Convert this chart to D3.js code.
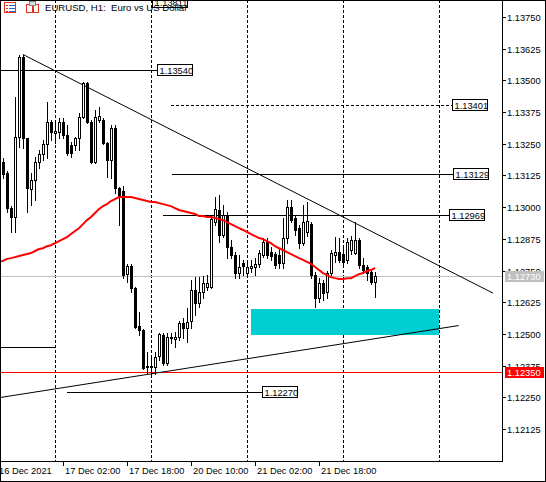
<!DOCTYPE html>
<html><head><meta charset="utf-8">
<script src="https://cdn.jsdelivr.net/npm/d3@7/dist/d3.min.js"></script>
<style>
body{margin:0;background:#fff}
svg{display:block}
text{font-family:"Liberation Sans",Arial,sans-serif;font-size:9.3px;fill:#000}
</style>
</head><body>
<svg id="c" width="546" height="482"></svg>
<script>
// ---- data (EURUSD H1, bars from 16 Dec 2021 11:00) ----
const openP = [1.13178,1.13135,1.12996,1.12961,1.13276,1.13592,1.13272,1.13071,1.13107,1.13178,
1.13209,1.13249,1.13336,1.13292,1.13296,1.13336,1.13284,1.13245,1.13245,1.13272,
1.13355,1.13490,1.13336,1.13178,1.13344,1.13344,1.13253,1.13186,1.13312,1.13075,
1.13064,1.12736,1.12768,1.12681,1.12531,1.12516,1.12369,1.12373,1.12369,1.12413,
1.12496,1.12385,1.12484,1.12480,1.12488,1.12543,1.12523,1.12551,1.12673,1.12622,
1.12665,1.12685,1.12685,1.12941,1.12989,1.12890,1.12969,1.12842,1.12811,1.12740,
1.12780,1.12740,1.12760,1.12764,1.12776,1.12811,1.12862,1.12823,1.12815,1.12811,
1.12780,1.12878,1.13000,1.12957,1.12917,1.12858,1.12902,1.12933,1.12732,1.12641,
1.12701,1.12665,1.12740,1.12811,1.12823,1.12815,1.12792,1.12831,1.12819,1.12870,
1.12772,1.12764,1.12744,1.12705];
const highP = [1.13193,1.13143,1.13004,1.13434,1.13600,1.13600,1.13272,1.13135,1.13197,1.13225,
1.13265,1.13415,1.13344,1.13344,1.13351,1.13351,1.13324,1.13257,1.13276,1.13371,
1.13494,1.13494,1.13344,1.13383,1.13395,1.13351,1.13257,1.13324,1.13324,1.13079,
1.13083,1.12776,1.12776,1.12685,1.12586,1.12520,1.12429,1.12409,1.12429,1.12504,
1.12504,1.12504,1.12504,1.12508,1.12551,1.12562,1.12602,1.12713,1.12724,1.12724,
1.12728,1.12732,1.12965,1.13040,1.13048,1.13008,1.12981,1.12870,1.12823,1.12811,
1.12792,1.12784,1.12792,1.12799,1.12831,1.12878,1.12878,1.12842,1.12823,1.12838,
1.12957,1.13028,1.13028,1.12969,1.12929,1.13008,1.13020,1.12941,1.12744,1.12720,
1.12713,1.12748,1.12831,1.12882,1.12878,1.12838,1.12878,1.12886,1.12941,1.12878,
1.12799,1.12772,1.12752,1.12744];
const lowP = [1.13115,1.12981,1.12902,1.12902,1.13237,1.13233,1.12981,1.13008,1.13028,1.13154,
1.13186,1.13193,1.13265,1.13253,1.13272,1.13272,1.13205,1.13197,1.13225,1.13225,
1.13351,1.13332,1.13174,1.13174,1.13336,1.13249,1.13119,1.13115,1.13056,1.12929,
1.12720,1.12705,1.12665,1.12523,1.12496,1.12362,1.12346,1.12342,1.12342,1.12397,
1.12377,1.12377,1.12464,1.12448,1.12476,1.12484,1.12468,1.12523,1.12574,1.12606,
1.12641,1.12673,1.12681,1.12929,1.12862,1.12882,1.12799,1.12799,1.12720,1.12720,
1.12732,1.12728,1.12744,1.12732,1.12764,1.12803,1.12799,1.12792,1.12760,1.12760,
1.12760,1.12858,1.12941,1.12890,1.12838,1.12850,1.12886,1.12720,1.12606,1.12626,
1.12634,1.12641,1.12732,1.12784,1.12784,1.12772,1.12780,1.12815,1.12815,1.12760,
1.12740,1.12713,1.12697,1.12645];
const closeP = [1.13131,1.12996,1.12961,1.13276,1.13592,1.13272,1.13075,1.13107,1.13178,1.13209,
1.13249,1.13336,1.13296,1.13300,1.13336,1.13284,1.13213,1.13213,1.13272,1.13355,
1.13490,1.13336,1.13178,1.13355,1.13359,1.13253,1.13186,1.13312,1.13075,1.13044,
1.12732,1.12768,1.12681,1.12527,1.12516,1.12365,1.12373,1.12369,1.12409,1.12500,
1.12385,1.12488,1.12488,1.12488,1.12543,1.12523,1.12547,1.12673,1.12622,1.12665,
1.12701,1.12701,1.12953,1.12993,1.12890,1.12969,1.12842,1.12811,1.12740,1.12764,
1.12768,1.12764,1.12768,1.12776,1.12819,1.12862,1.12811,1.12807,1.12772,1.12780,
1.12878,1.13000,1.12949,1.12910,1.12858,1.12941,1.12945,1.12732,1.12641,1.12701,
1.12661,1.12740,1.12819,1.12823,1.12792,1.12784,1.12862,1.12870,1.12870,1.12772,
1.12752,1.12740,1.12705,1.12730];
// moving average, first value belongs to the bar before the first visible bar
const maP = [1.12784,1.12788,1.12796,1.12799,1.12803,1.12807,1.12811,1.12815,1.12819,1.12827,
1.12835,1.12838,1.12846,1.12850,1.12858,1.12866,1.12874,1.12882,1.12894,1.12906,
1.12917,1.12933,1.12949,1.12961,1.12977,1.12993,1.13004,1.13012,1.13024,1.13032,
1.13040,1.13040,1.13040,1.13040,1.13036,1.13032,1.13028,1.13024,1.13020,1.13020,
1.13016,1.13012,1.13008,1.13004,1.12996,1.12989,1.12985,1.12981,1.12977,1.12973,
1.12965,1.12965,1.12961,1.12961,1.12957,1.12953,1.12949,1.12941,1.12933,1.12925,
1.12917,1.12910,1.12902,1.12894,1.12886,1.12878,1.12874,1.12866,1.12858,1.12846,
1.12838,1.12831,1.12823,1.12815,1.12807,1.12799,1.12792,1.12784,1.12776,1.12764,
1.12752,1.12740,1.12732,1.12724,1.12720,1.12717,1.12717,1.12720,1.12720,1.12728,
1.12736,1.12740,1.12748,1.12752,1.12760];
const yTickValues = [1.13750,1.13625,1.13500,1.13375,1.13250,1.13125,1.13000,1.12875,1.12750,1.12625,1.12500,1.12375,1.12250,1.12125];
const xLabelText = ["16 Dec 2021","17 Dec 02:00","17 Dec 18:00","20 Dec 10:00","21 Dec 02:00","21 Dec 18:00"];
const xLabelBar = [0,15,31,47,63,79];
const daySeparatorBar = [13,37,61,85,109];
const levelPrice   = [1.13540,1.13401,1.13129,1.12969,1.12270,1.12448,1.13811];
const levelFromBar = [-1,42,42.25,40,16,-1,37.25];
const levelToBar   = [38.5,112.25,112.5,111.5,64.75,13,37.25];
const levelDashed  = [false,true,false,false,false,false,false];
const levelLabeled = [true,true,true,true,true,false,true];
const trendFromBar = [5,-0.75], trendFromPrice = [1.13602,1.12249];
const trendToBar = [122.5,113.9], trendToPrice = [1.12661,1.12533];
const zoneBar = [62,109], zonePrice = [1.12600,1.12495];
const bidPrice = 1.12730, alertPrice = 1.12350, upperAlertPrice = 1.13840;
const titleText = "EURUSD, H1:  Euro vs US Dollar";

// ---- drawing ----
const W = 546, H = 482, plotR = 502, plotB = 461;
const svg = d3.select("#c");
const x = d3.scaleLinear().domain([0,109]).range([3,439]);
const y = d3.scaleLinear().domain([1.12125,1.1375]).range([429,17]);
const px = v => Math.round(v) + 0.5;

svg.append("rect").attr("width",W).attr("height",H).attr("fill","#fff");
svg.append("defs").append("clipPath").attr("id","pc").append("rect")
  .attr("x",0).attr("y",0).attr("width",plotR).attr("height",plotB);
const plot = svg.append("g").attr("clip-path","url(#pc)");

// day separators
plot.selectAll("line.sep").data(daySeparatorBar).join("line")
  .attr("x1",d=>px(x(d))).attr("x2",d=>px(x(d))).attr("y1",0).attr("y2",plotB)
  .attr("stroke","#000").attr("stroke-dasharray","3,2");

// zone rectangle
plot.append("rect")
  .attr("x",Math.round(x(zoneBar[0]))).attr("width",Math.round(x(zoneBar[1]))-Math.round(x(zoneBar[0])))
  .attr("y",Math.round(y(zonePrice[0]))).attr("height",Math.round(y(zonePrice[1]))-Math.round(y(zonePrice[0])))
  .attr("fill","#00CED1");

// bid & alert lines
plot.append("line").attr("x1",0).attr("x2",plotR).attr("y1",px(y(bidPrice))).attr("y2",px(y(bidPrice))).attr("stroke","#C0C0C0");
plot.append("line").attr("x1",0).attr("x2",plotR).attr("y1",px(y(alertPrice))).attr("y2",px(y(alertPrice))).attr("stroke","#FF0000");

// horizontal levels
levelPrice.forEach((p,k)=>{
  if (levelFromBar[k] === levelToBar[k]) return;
  plot.append("line").attr("x1",x(levelFromBar[k])).attr("x2",x(levelToBar[k]))
    .attr("y1",px(y(p))).attr("y2",px(y(p))).attr("stroke","#000")
    .attr("stroke-dasharray",levelDashed[k]?"3,2":null);
});

// trend lines
trendFromBar.forEach((b,k)=>{
  plot.append("line").attr("x1",x(b)).attr("y1",y(trendFromPrice[k]))
    .attr("x2",x(trendToBar[k])).attr("y2",y(trendToPrice[k]))
    .attr("stroke","#000").attr("stroke-width",1);
});

// candles
const idx = d3.range(openP.length);
const cg = plot.append("g");
idx.forEach(i=>{
  const cx = Math.round(x(i));
  cg.append("line").attr("x1",cx+0.5).attr("x2",cx+0.5)
    .attr("y1",Math.round(y(highP[i]))).attr("y2",Math.round(y(lowP[i]))+1).attr("stroke","#000");
  const yo = Math.round(y(openP[i])), yc = Math.round(y(closeP[i]));
  const top = Math.min(yo,yc), bot = Math.max(yo,yc);
  if (closeP[i] >= openP[i]) {
    cg.append("rect").attr("x",cx-0.5).attr("y",top+0.5).attr("width",2).attr("height",Math.max(bot-top,1))
      .attr("fill","#fff").attr("stroke","#000");
  } else {
    cg.append("rect").attr("x",cx-1).attr("y",top).attr("width",3).attr("height",Math.max(bot-top,1)+1)
      .attr("fill","#000");
  }
});

// moving average
plot.append("path").datum(maP)
  .attr("d",d3.line().x((d,k)=>x(k-1)).y(d=>y(d)))
  .attr("fill","none").attr("stroke","#FF0000").attr("stroke-width",2);

// level label boxes
levelPrice.forEach((p,k)=>{
  if (!levelLabeled[k]) return;
  const bx = Math.round(x(levelToBar[k])), by = Math.round(y(p));
  plot.append("rect").attr("x",bx+0.5).attr("y",by-5.5).attr("width",35).attr("height",11)
    .attr("fill","#fff").attr("stroke","#000");
  plot.append("text").attr("x",bx+2.5).attr("y",by+4).text(p.toFixed(5));
});

// frames / axes
svg.append("line").attr("x1",plotR+0.5).attr("x2",plotR+0.5).attr("y1",0).attr("y2",plotB+1).attr("stroke","#000");
svg.append("line").attr("x1",0).attr("x2",plotR+1).attr("y1",plotB+0.5).attr("y2",plotB+0.5).attr("stroke","#000");
svg.append("rect").attr("x",0.5).attr("y",0.5).attr("width",W-1).attr("height",H-1).attr("fill","none").attr("stroke","#000");

// y axis
const ya = svg.append("g");
yTickValues.forEach(v=>{
  const yy = Math.round(y(v));
  ya.append("line").attr("x1",plotR+1).attr("x2",plotR+4).attr("y1",yy+0.5).attr("y2",yy+0.5).attr("stroke","#000");
  ya.append("text").attr("x",plotR+5).attr("y",yy+4).text(v.toFixed(5));
});
[[bidPrice,"#C0C0C0",true],[alertPrice,"#FF0000",true],[upperAlertPrice,"#FF0000",false]].forEach(([v,c,withText])=>{
  const yy = Math.round(y(v));
  ya.append("rect").attr("x",plotR+3).attr("y",yy-5).attr("width",39).attr("height",11).attr("fill",c);
  if (withText) ya.append("text").attr("x",plotR+5).attr("y",yy+4).style("fill","#fff").text(v.toFixed(5));
});

// x axis
const xa = svg.append("g");
xLabelBar.forEach((b,k)=>{
  const xx = Math.round(x(b));
  if (k>0) xa.append("line").attr("x1",xx+0.5).attr("x2",xx+0.5).attr("y1",plotB+1).attr("y2",plotB+5).attr("stroke","#000");
  xa.append("text").attr("x",k>0?xx+2:xx-4).attr("y",plotB+13).text(xLabelText[k]);
});

// title with icons
const t = svg.append("g");
t.append("rect").attr("x",4.5).attr("y",2.5).attr("width",11).attr("height",10).attr("fill","#fff").attr("stroke","#e03020");
[5.5,8.5,11.5].forEach(yy=>{
  t.append("line").attr("x1",6).attr("x2",8).attr("y1",yy).attr("y2",yy).attr("stroke","#e03020");
  t.append("line").attr("x1",9).attr("x2",15).attr("y1",yy).attr("y2",yy).attr("stroke","#3060d0");
});
t.append("rect").attr("x",26.5).attr("y",4.5).attr("width",6).attr("height",8).attr("fill","#fff").attr("stroke","#e03020");
t.append("rect").attr("x",33.5).attr("y",4.5).attr("width",5).attr("height",8).attr("fill","#fff").attr("stroke","#e03020");
t.append("rect").attr("x",29.5).attr("y",1.5).attr("width",6).attr("height",4).attr("fill","#ddd").attr("stroke","#888");
t.append("text").attr("x",45).attr("y",11).style("white-space","pre").style("font-size","9.6px").text(titleText);
</script>
</body></html>
